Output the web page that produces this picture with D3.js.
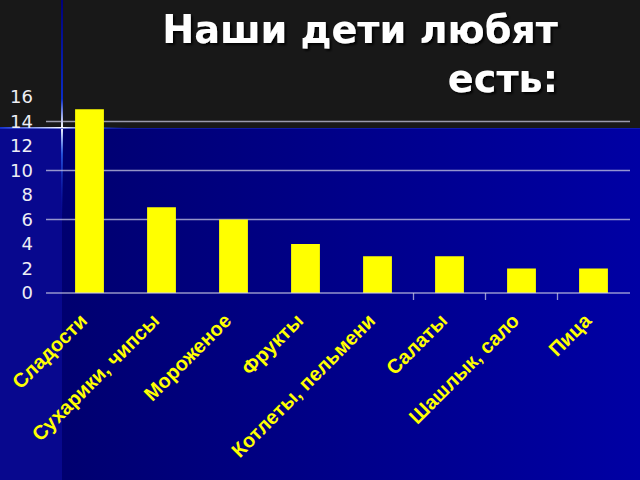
<!DOCTYPE html>
<html><head><meta charset="utf-8">
<script src="https://cdn.jsdelivr.net/npm/d3@7"></script>
<style>html,body{margin:0;padding:0;background:#181818;overflow:hidden}</style>
</head><body>
<svg id="c" width="640" height="480"></svg>
<script>
const categories = ["Сладости","Сухарики, чипсы","Мороженое","Фрукты","Котлеты, пельмени","Салаты","Шашлык, сало","Пица"];
const values = [15, 7, 6, 4, 3, 3, 2, 2];
const yTicks = [0, 2, 4, 6, 8, 10, 12, 14, 16];
const gridValues = [6, 10, 14];
const titleLines = ["Наши дети любят", "есть:"];

const svg = d3.select("#c");
const defs = svg.append("defs");

const gMain = defs.append("linearGradient").attr("id","gm").attr("x1","0").attr("x2","1").attr("y1","0").attr("y2","0");
gMain.append("stop").attr("offset","0").attr("stop-color","#00006a");
gMain.append("stop").attr("offset","1").attr("stop-color","#0000a4");
const gV = defs.append("linearGradient").attr("id","gv").attr("gradientUnits","userSpaceOnUse").attr("x1",0).attr("x2",0).attr("y1",0).attr("y2",220);
gV.append("stop").attr("offset","0").attr("stop-color","#00007a");
gV.append("stop").attr("offset","0.45").attr("stop-color","#0a2cc8");
gV.append("stop").attr("offset","0.58").attr("stop-color","#ffffff");
gV.append("stop").attr("offset","0.7").attr("stop-color","#3070ff").attr("stop-opacity",0.7);
gV.append("stop").attr("offset","1").attr("stop-color","#0000a0").attr("stop-opacity",0);
const gH = defs.append("linearGradient").attr("id","gh").attr("gradientUnits","userSpaceOnUse").attr("x1",0).attr("x2",130).attr("y1",0).attr("y2",0);
gH.append("stop").attr("offset","0").attr("stop-color","#1030d0");
gH.append("stop").attr("offset","0.48").attr("stop-color","#ffffff");
gH.append("stop").attr("offset","0.75").attr("stop-color","#3a70ff").attr("stop-opacity",0.6);
gH.append("stop").attr("offset","1").attr("stop-color","#0000a0").attr("stop-opacity",0);
const sh = defs.append("filter").attr("id","shadow").attr("x","-10%").attr("y","-20%").attr("width","130%").attr("height","150%");
sh.append("feDropShadow").attr("dx",2).attr("dy",2).attr("stdDeviation",0.8).attr("flood-color","#000").attr("flood-opacity",0.9);

svg.append("rect").attr("x",0).attr("y",0).attr("width",640).attr("height",480).attr("fill","#181818");
svg.append("rect").attr("x",0).attr("y",128).attr("width",640).attr("height",352).attr("fill","url(#gm)");
svg.append("rect").attr("x",0).attr("y",128).attr("width",62).attr("height",352).attr("fill","#08088e");
svg.append("rect").attr("x",61).attr("y",0).attr("width",2).attr("height",220).attr("fill","url(#gv)");
svg.append("rect").attr("x",0).attr("y",127).attr("width",130).attr("height",2).attr("fill","url(#gh)");
svg.append("rect").attr("x",0).attr("y",128).attr("width",640).attr("height",1).attr("fill","#1a2ab8").attr("opacity",0.6);

// title
const title = svg.append("g").attr("filter","url(#shadow)");
titleLines.forEach((t,i)=>{
  title.append("text").attr("x",558).attr("y", i===0 ? 43 : 92).attr("text-anchor","end")
    .attr("font-family","DejaVu Sans, Verdana, sans-serif").attr("font-weight","bold")
    .attr("font-size",38).attr("fill","#ffffff").text(t);
});
const first = title.select("text").node();
const w = first.getComputedTextLength();
const fs = Math.min(40, 38 * 396 / w);
title.selectAll("text").attr("font-size", fs);

// scales
const y = d3.scaleLinear().domain([0,16]).range([293,97]);
const x = d3.scaleBand().domain(categories).range([53.5,629.5]).paddingInner(0.6).paddingOuter(0.3);
const lineColor = "rgba(205,205,230,0.72)";

svg.append("g").selectAll("line").data(gridValues).join("line")
  .attr("x1",46).attr("x2",630).attr("y1",d=>y(d)).attr("y2",d=>y(d))
  .attr("stroke",lineColor).attr("stroke-width",1.6);

svg.append("g").selectAll("rect").data(values).join("rect")
  .attr("x",(d,i)=>x(categories[i])).attr("width",x.bandwidth())
  .attr("y",d=>y(d)).attr("height",d=>y(0)-y(d)).attr("fill","#ffff00");

svg.append("line").attr("x1",46).attr("x2",630).attr("y1",y(0)).attr("y2",y(0))
  .attr("stroke",lineColor).attr("stroke-width",1.6);
const gap = (x.step()-x.bandwidth())/2;
svg.append("g").selectAll("line").data(categories.slice(5)).join("line")
  .attr("x1",d=>x(d)-gap).attr("x2",d=>x(d)-gap).attr("y1",y(0)).attr("y2",y(0)+7)
  .attr("stroke",lineColor).attr("stroke-width",1.3);

const yAxis = svg.append("g").attr("transform","translate(36,0)")
  .call(d3.axisLeft(y).tickValues(yTicks).tickSize(0).tickPadding(3).tickFormat(d3.format("d")));
yAxis.select(".domain").remove();
yAxis.selectAll("text").attr("fill","#eeeef4").attr("font-family","DejaVu Sans, Tahoma, sans-serif").attr("font-size",18);

const xAxis = svg.append("g").attr("transform",`translate(0,${y(0)})`)
  .call(d3.axisBottom(x).tickSize(0).tickPadding(0));
xAxis.select(".domain").remove();
xAxis.selectAll(".tick text")
  .attr("fill","#ffff00").attr("font-family","Liberation Sans, Arial, sans-serif")
  .attr("font-weight","bold").attr("font-size",20)
  .attr("text-anchor","end").attr("dy",null).attr("y",null)
  .attr("transform","translate(-1,29) rotate(-45)");
</script>
</body></html>
